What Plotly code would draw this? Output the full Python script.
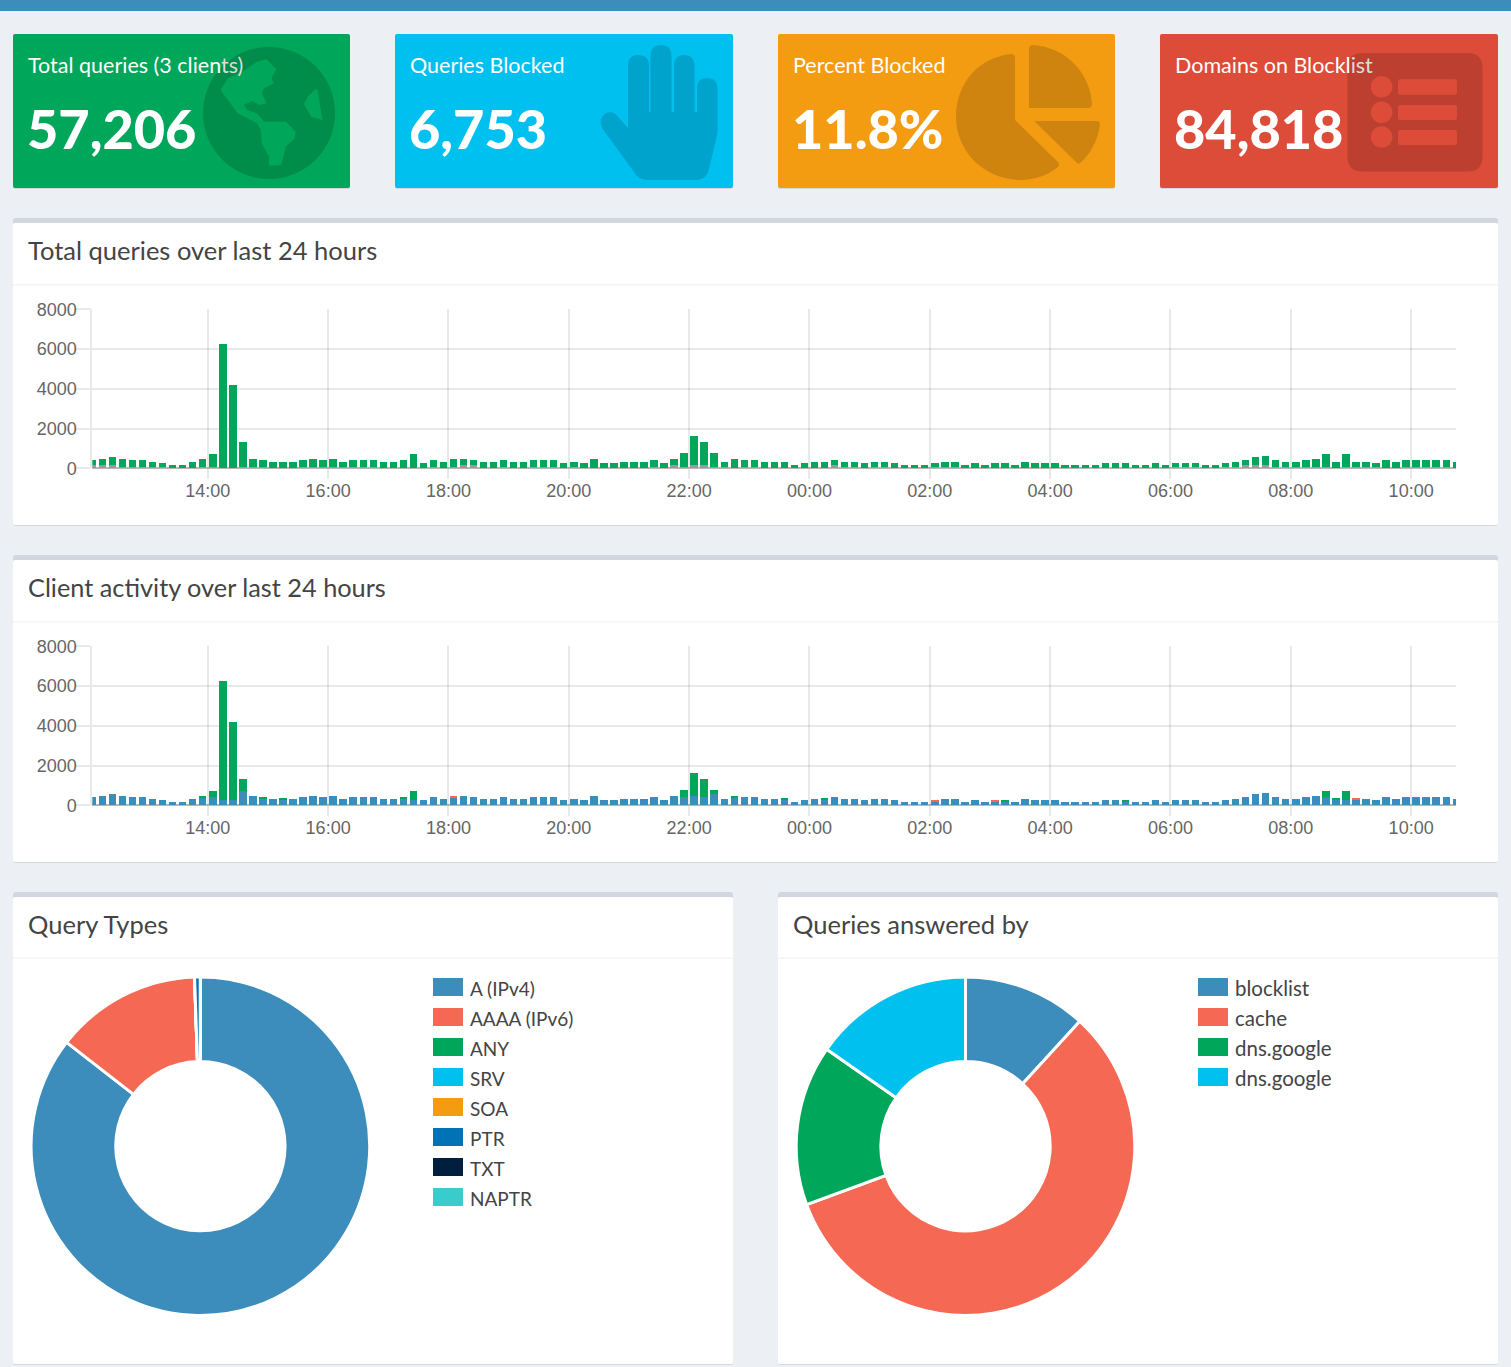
import plotly.graph_objects as go
import pandas as pd

W, H = 1511, 1367

# ---------- data ----------
bin_times = pd.date_range("2024-01-01 12:05", periods=137, freq="10min")
hour_ticks = pd.date_range("2024-01-01 14:00", periods=11, freq="2h")
count_ticks = [0, 2000, 4000, 6000, 8000]

permitted_queries = [
    230,310,390,395,315,315,235,170,170,170,320,395,625,6250,4200,1245,395,315,340,340,
    340,315,395,315,395,255,315,315,315,340,340,400,720,255,315,340,395,310,230,340,
    340,315,320,320,315,315,315,255,235,255,480,255,255,320,320,320,315,255,310,695,
    1460,1150,695,235,480,315,315,320,320,320,170,255,320,320,230,235,235,255,235,235,
    255,170,170,170,170,235,235,170,255,170,255,255,170,320,255,255,255,170,170,170,
    170,255,255,255,170,170,255,170,170,170,170,170,170,170,235,230,390,460,315,235,
    235,315,395,625,320,625,235,235,170,400,320,315,315,315,315,315,320]
blocked_queries = [
    170,170,170,85,85,85,85,85,0,0,0,85,85,0,0,85,85,85,0,0,
    0,85,85,85,85,85,85,85,85,0,0,0,0,0,85,0,85,170,170,0,
    0,85,0,0,85,85,85,0,85,0,0,0,0,0,0,0,85,0,170,85,
    170,170,85,85,0,85,85,0,0,0,0,0,0,0,170,85,85,0,85,85,
    0,0,0,0,85,85,85,0,0,0,0,0,0,0,0,0,0,0,0,0,
    0,0,0,0,0,0,0,0,85,85,85,0,0,85,85,170,170,170,85,85,
    85,85,85,85,0,85,85,85,85,0,0,85,85,85,85,85,0]
client_blue = [
    400,480,560,480,400,400,320,255,170,170,320,400,400,255,255,710,480,340,340,255,
    340,400,480,400,480,340,400,400,400,340,340,340,255,255,400,340,400,480,400,340,
    340,400,320,320,400,400,400,255,320,255,480,255,255,320,320,320,400,255,480,400,
    480,400,560,320,400,400,400,320,320,255,170,255,320,255,400,320,320,255,320,320,
    255,170,170,170,170,320,320,170,255,170,170,170,170,320,255,255,255,170,170,170,
    170,255,255,170,170,170,255,170,255,255,255,170,170,255,320,400,560,630,400,320,
    320,400,480,400,255,255,255,320,255,400,320,400,400,400,400,400,320]
green_peaks = {11:80,12:310,13:5995,14:3945,15:620,17:60,19:85,31:60,32:465,59:380,60:1150,
               61:920,62:220,64:80,69:65,73:65,91:85,103:85,123:310,124:65,125:455}
red_peaks = {36:80,84:85,90:85,126:65}
client_green = [green_peaks.get(i, 0) for i in range(137)]
client_red = [red_peaks.get(i, 0) for i in range(137)]

query_types = ["A (IPv4)", "AAAA (IPv6)", "ANY", "SRV", "SOA", "PTR", "TXT", "NAPTR"]
query_shares = [85.5, 13.95, 0, 0, 0, 0.55, 0, 0]
type_colors = ["#3c8dbc", "#f56954", "#00a65a", "#00c0ef", "#f39c12", "#0073b7", "#001f3f", "#39cccc"]
upstreams = ["blocklist", "cache", "dns.google", "dns.google "]
upstream_shares = [11.8, 57.6, 15.3, 15.3]
upstream_colors = ["#3c8dbc", "#f56954", "#00a65a", "#00c0ef"]

stat_titles = ["Total queries (3 clients)", "Queries Blocked", "Percent Blocked", "Domains on Blocklist"]
stat_values = ["57,206", "6,753", "11.8%", "84,818"]

# ---------- page helpers ----------
FONT = "Lato, 'Source Sans Pro', sans-serif"
TXT = "#444444"
ICON = "rgba(0,0,0,0.15)"
shapes, annos = [], []

def fx(x): return x / W
def fy(y): return 1 - y / H

def add_shape(path, fill):
    shapes.append(dict(type="path", path=path, xref="paper", yref="paper", fillcolor=fill,
                       line=dict(width=0), layer="below"))

def pts(*cmds):
    """Build an SVG path from page pixels: items are letters or (x, y) tuples."""
    out = []
    for c in cmds:
        if isinstance(c, str):
            out.append(c)
        else:
            out.append(f"{fx(c[0]):.6f},{fy(c[1]):.6f}")
    return " ".join(out)

def rrect(x0, y0, x1, y1, r, fill):
    add_shape(pts("M", (x0 + r, y0), "L", (x1 - r, y0), "Q", (x1, y0), (x1, y0 + r),
                  "L", (x1, y1 - r), "Q", (x1, y1), (x1 - r, y1), "L", (x0 + r, y1),
                  "Q", (x0, y1), (x0, y1 - r), "L", (x0, y0 + r), "Q", (x0, y0), (x0 + r, y0), "Z"), fill)

def ellipse(cx, cy, r, fill):
    k = 0.5523 * r
    add_shape(pts("M", (cx - r, cy), "C", (cx - r, cy - k), (cx - k, cy - r), (cx, cy - r),
                  "C", (cx + k, cy - r), (cx + r, cy - k), (cx + r, cy),
                  "C", (cx + r, cy + k), (cx + k, cy + r), (cx, cy + r),
                  "C", (cx - k, cy + r), (cx - r, cy + k), (cx - r, cy), "Z"), fill)

def poly(points, fill):
    cmds = ["M", points[0]]
    for p in points[1:]:
        cmds += ["L", p]
    cmds.append("Z")
    add_shape(pts(*cmds), fill)

def text(x, y, s, size, color=TXT, weight=400):
    annos.append(dict(x=fx(x), y=fy(y), xref="paper", yref="paper", text=s, showarrow=False,
                      xanchor="left", yanchor="middle", align="left", borderpad=0, borderwidth=0,
                      font=dict(family=FONT, size=size, color=color, weight=weight)))

# page furniture
add_shape(pts("M", (0, 0), "L", (W, 0), "L", (W, 11), "L", (0, 11), "Z"), "#3c8dbc")

stat_boxes = [(13, 350, "#00a65a"), (395, 733, "#00c0ef"), (778, 1115, "#f39c12"), (1160, 1498, "#dd4b39")]
for (x0, x1, col) in stat_boxes:
    rrect(x0, 35, x1, 189, 2, "rgba(0,0,0,0.1)")
    rrect(x0, 34, x1, 188, 2, col)

def panel(x0, x1, y0, y1, head_y):
    rrect(x0, y0 + 1, x1, y1 + 1, 3, "rgba(0,0,0,0.1)")
    rrect(x0, y0, x1, y1, 3, "#d2d6de")
    rrect(x0, y0 + 5, x1, y1, 2, "#ffffff")
    poly([(x0, head_y), (x1, head_y), (x1, head_y + 1.5), (x0, head_y + 1.5)], "#f4f4f4")

panel(13, 1498, 218, 525, 284)
panel(13, 1498, 555, 862, 621)
panel(13, 733, 892, 1364, 957.5)
panel(778, 1498, 892, 1364, 957.5)

# globe icon
ellipse(269, 113, 66, ICON)
z2r = lambda zx, zy: (zx / 2.063, zy / 3)
americas = [(530,185),(550,178),(570,208),(560,235),(565,250),(545,265),(540,278),(550,310),(535,315),
            (520,303),(503,315),(510,330),(530,340),(545,365),(590,365),(610,395),(608,415),(590,440),
            (580,495),(555,497),(555,470),(540,430),(538,390),(530,370),(490,340),(455,270),(470,235),
            (500,215),(515,200)]
africa = [(650,268),(655,268),(665,360),(642,350),(627,312),(635,290)]
poly([z2r(*p) for p in americas], "#00a65a")
poly([z2r(*p) for p in africa], "#00a65a")

# hand icon
add_shape(pts("M", (628, 128), "L", (628, 66), "Q", (628, 55), (638, 55), "Q", (649, 55), (649, 66),
              "L", (649, 112), "L", (650.5, 112), "L", (650.5, 56), "Q", (650.5, 45), (661, 45), "Q", (671.5, 45), (671.5, 56),
              "L", (671.5, 112), "L", (674, 112), "L", (674, 66), "Q", (674, 55), (684, 55), "Q", (694.5, 55), (694.5, 66),
              "L", (694.5, 112), "L", (697, 112), "L", (697, 89), "Q", (697, 78), (707, 78), "Q", (717.5, 78), (717.5, 89),
              "L", (717.5, 133), "L", (709, 169), "Q", (707, 180), (696, 180), "L", (648, 180), "Q", (638, 180), (634, 172),
              "L", (602, 128), "Q", (598, 118), (606, 113), "Q", (614, 110), (619, 118), "Z"), ICON)

# pie icon
add_shape(pts("M", (1015, 120), "L", (1015, 58), "Q", (1015, 54), (1011, 54),
              "C", (980, 57), (956, 82), (956, 117), "C", (956, 152), (985, 180), (1021, 180),
              "C", (1035, 180), (1048, 175), (1058, 167), "Q", (1060, 165), (1058, 162), "Z"), ICON)
add_shape(pts("M", (1029, 108), "L", (1029, 49), "Q", (1029, 45), (1033, 45),
              "C", (1065, 47), (1090, 72), (1092, 104), "Q", (1092, 108), (1088, 108), "Z"), ICON)
add_shape(pts("M", (1034, 121), "L", (1097, 121), "Q", (1100, 121), (1100, 125),
              "C", (1098, 140), (1090, 155), (1080, 163), "Q", (1078, 165), (1076, 162), "Z"), ICON)

# list icon
rrect(1347.5, 53, 1482.5, 171.5, 15, ICON)
for cy, (b0, b1) in zip((86.7, 112.3, 137), ((79.3, 94.7), (105, 120), (130, 145))):
    ellipse(1381.6, cy, 10.8, "#dd4b39")
    rrect(1398, b0, 1457, b1, 2, "#dd4b39")

# stat text
DIM = "#dcdcdc"
title_markup = [stat_titles[0][:-3] + f'<span style="color:{DIM}">ts)</span>', stat_titles[1], stat_titles[2],
                stat_titles[3][:-3] + f'<span style="color:{DIM}">ist</span>']
for (x0, x1, col), t, v in zip(stat_boxes, title_markup, stat_values):
    text(x0 + 15, 65, t, 21.5, "#ffffff")
    text(x0 + 14, 128, v, 54, "#ffffff", 900)

# panel titles
text(28, 250, "Total queries over last 24 hours", 25.5)
text(28, 587, "Client activity over last 24 hours", 25.3)
text(28, 924, "Query Types", 25.5)
text(793, 924, "Queries answered by", 25.5)

# pie legends
for i, (n, c) in enumerate(zip(query_types, type_colors)):
    y = 978 + 30 * i
    poly([(433, y), (463, y), (463, y + 18), (433, y + 18)], c)
    text(470, y + 10, n, 19)
for i, (n, c) in enumerate(zip(upstreams, upstream_colors)):
    y = 978 + 30 * i
    poly([(1198, y), (1228, y), (1228, y + 18), (1198, y + 18)], c)
    text(1235, y + 10, n.strip(), 20.5)

# ---------- traces ----------
GREY = "#999999"
fig = go.Figure()
fig.add_bar(x=bin_times, y=blocked_queries, marker=dict(color=GREY, line=dict(width=0)), name="Blocked", xaxis="x", yaxis="y")
fig.add_bar(x=bin_times, y=permitted_queries, marker=dict(color="#00a65a", line=dict(width=0)), name="Permitted", xaxis="x", yaxis="y")
fig.add_bar(x=bin_times, y=client_blue, marker=dict(color="#3c8dbc", line=dict(width=0)), name="client 1", xaxis="x2", yaxis="y2")
fig.add_bar(x=bin_times, y=client_green, marker=dict(color="#00a65a", line=dict(width=0)), name="client 2", xaxis="x2", yaxis="y2")
fig.add_bar(x=bin_times, y=client_red, marker=dict(color="#f56954", line=dict(width=0)), name="client 3", xaxis="x2", yaxis="y2")

def pie_domain(cx, cy, r):
    return dict(x=[fx(cx - r), fx(cx + r)], y=[fy(cy + r), fy(cy - r)])

fig.add_pie(labels=query_types, values=query_shares, hole=0.5, sort=False, direction="clockwise",
            rotation=0, textinfo="none", marker=dict(colors=type_colors, line=dict(color="#ffffff", width=3)),
            domain=pie_domain(200.4, 1146.2, 169.3))
fig.add_pie(labels=upstreams, values=upstream_shares, hole=0.5, sort=False, direction="clockwise",
            rotation=0, textinfo="none", marker=dict(colors=upstream_colors, line=dict(color="#ffffff", width=3)),
            domain=pie_domain(965.5, 1146.2, 169.3))

# ---------- axes ----------
LINE = "rgba(0,0,0,0.085)"
TICK = dict(family="'Liberation Sans', Arial, sans-serif", size=18, color="#666666")
x_range = ["2024-01-01 12:04:50", "2024-01-02 10:44:45"]

def xaxis(anchor):
    return dict(type="date", range=x_range, domain=[fx(92.3), fx(1456)], anchor=anchor,
                tickvals=hour_ticks, tickformat="%H:%M", ticks="outside", ticklen=10, tickcolor=LINE, tickwidth=2,
                showgrid=True, gridcolor=LINE, gridwidth=2, showline=False, zeroline=False, tickfont=TICK,
                ticklabelstandoff=-4)

def yaxis(anchor, top, bottom):
    return dict(range=[0, 8000], domain=[fy(bottom), fy(top)], anchor=anchor, tickvals=count_ticks,
                tickformat="d", ticks="outside", ticklen=15, tickcolor=LINE, tickwidth=2,
                showgrid=True, gridcolor=LINE, gridwidth=2, showline=True, linecolor=LINE, linewidth=2,
                zeroline=True, zerolinecolor="rgba(0,0,0,0.28)", zerolinewidth=2, tickfont=TICK,
                ticklabelstandoff=-5)

fig.update_layout(
    width=W, height=H, autosize=False, margin=dict(l=0, r=0, t=0, b=0, pad=0, autoexpand=False),
    paper_bgcolor="#ecf0f5", plot_bgcolor="rgba(0,0,0,0)",
    barmode="stack", bargap=0.26, showlegend=False,
    shapes=shapes, annotations=annos,
    xaxis=xaxis("y"), yaxis=yaxis("x", 309.3, 468.3),
    xaxis2=xaxis("y2"), yaxis2=yaxis("x2", 646.3, 805.3),
)

fig.write_html("out.html", config=dict(displayModeBar=False),
               post_script="document.body.style.margin='0';document.documentElement.style.overflow='hidden';")
